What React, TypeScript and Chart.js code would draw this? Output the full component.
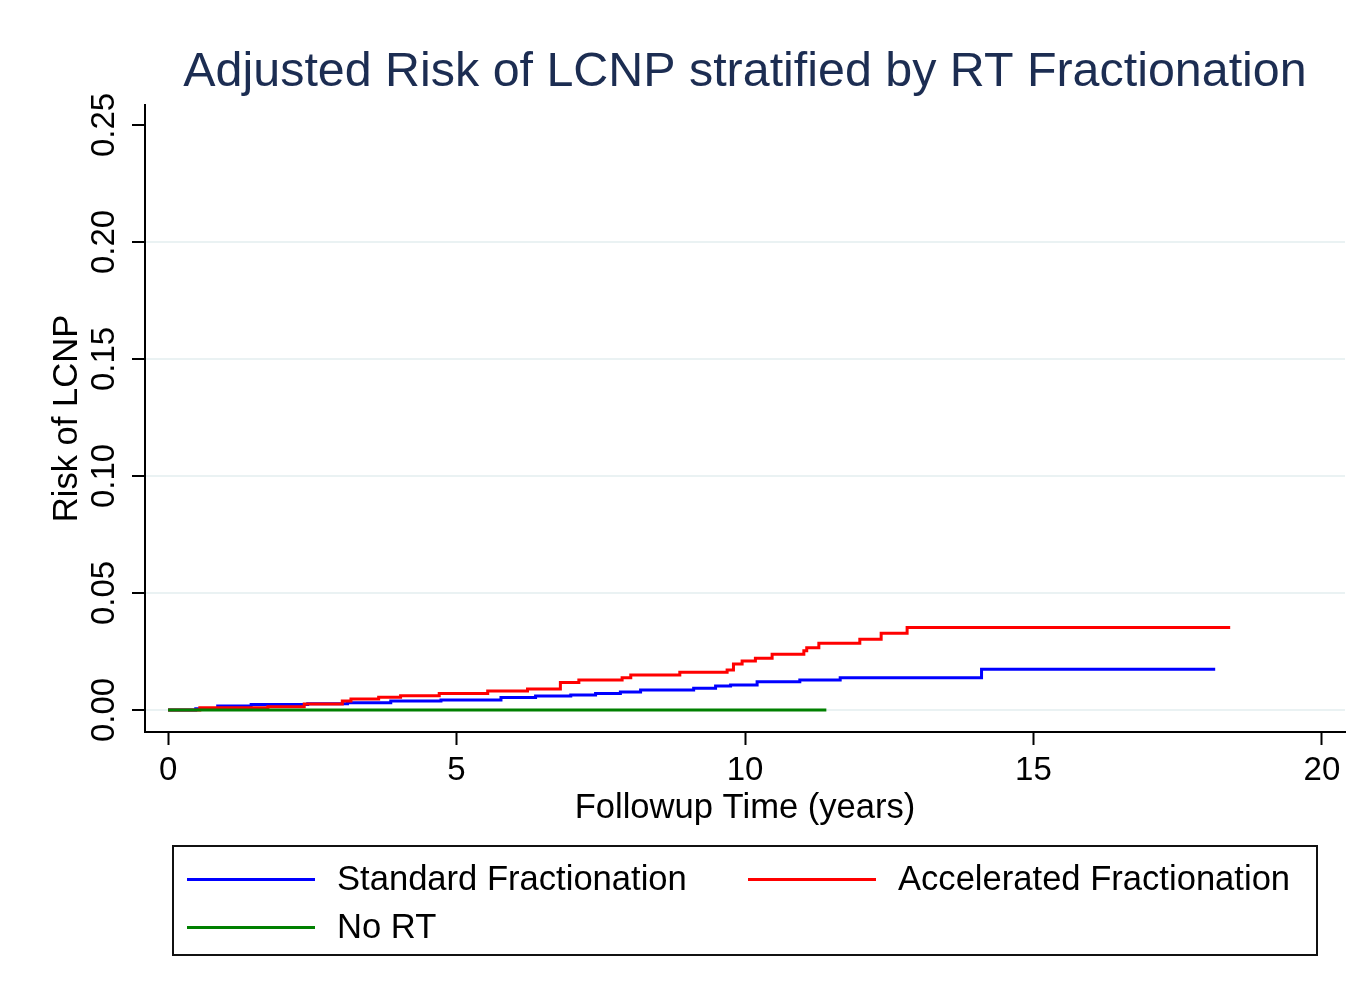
import React, { useEffect, useRef } from "react";
import { Chart, registerables } from "chart.js";

Chart.register(...registerables);

const FONT = '"Liberation Sans", Arial, Helvetica, sans-serif';

const chartTitle = "Adjusted Risk of LCNP stratified by RT Fractionation";
const xAxisTitle = "Followup Time (years)";
const yAxisTitle = "Risk of LCNP";

const xTickValues = [0, 5, 10, 15, 20];
const yTickValues = [0, 0.05, 0.1, 0.15, 0.2, 0.25];
const yTickLabels = ["0.00", "0.05", "0.10", "0.15", "0.20", "0.25"];

const seriesNames = ["Standard Fractionation", "Accelerated Fractionation", "No RT"];
const seriesColors = ["#0000ff", "#ff0000", "#008000"];

const standardTimes = [0, 0.48, 0.86, 1.44, 2.42, 3.11, 3.86, 4.73, 5.77, 6.37, 6.98, 7.41, 7.84, 8.19, 9.11, 9.49, 9.75, 10.21, 10.95, 11.65, 14.1, 18.15];
const standardRisk = [0, 0.0005, 0.0017, 0.0024, 0.0027, 0.0031, 0.0038, 0.0043, 0.0053, 0.006, 0.0064, 0.0071, 0.0077, 0.0085, 0.0093, 0.0103, 0.0107, 0.0121, 0.0128, 0.0138, 0.0174, 0.0174];

const acceleratedTimes = [0, 0.55, 1.73, 2.36, 3.02, 3.17, 3.65, 4.03, 4.7, 5.54, 6.23, 6.8, 7.12, 7.87, 8.02, 8.87, 9.69, 9.8, 9.95, 10.18, 10.47, 11.02, 11.07, 11.28, 11.99, 12.36, 12.81, 18.41];
const acceleratedRisk = [0, 0.001, 0.0014, 0.0026, 0.0038, 0.0047, 0.0054, 0.0061, 0.0071, 0.0081, 0.009, 0.0117, 0.0128, 0.0138, 0.015, 0.0161, 0.0171, 0.0197, 0.0209, 0.0221, 0.0238, 0.0253, 0.0266, 0.0285, 0.0302, 0.0328, 0.0352, 0.0352];

const noRtTimes = [0, 11.41];
const noRtRisk = [0, 0];

const toPoints = (xs: number[], ys: number[]) => xs.map((x, i) => ({ x, y: ys[i] }));

const yLabelPlugin = {
  id: "yLabels",
  afterDraw(chart: any) {
    const ys = chart.scales.y;
    const ctx = chart.ctx;
    ctx.save();
    ctx.font = `33px ${FONT}`;
    ctx.fillStyle = "#000";
    ctx.textAlign = "center";
    ctx.textBaseline = "middle";
    yTickValues.forEach((v, i) => {
      const py = ys.getPixelForValue(v);
      ctx.save();
      ctx.translate(105, py);
      ctx.rotate(-Math.PI / 2);
      ctx.fillText(yTickLabels[i], 0, 0);
      ctx.restore();
    });
    ctx.restore();
  },
};

export default function App() {
  const ref = useRef<HTMLCanvasElement | null>(null);

  useEffect(() => {
    if (!ref.current) return;
    const chart = new Chart(ref.current, {
      type: "line",
      data: {
        datasets: [
          {
            label: seriesNames[0],
            data: toPoints(standardTimes, standardRisk),
            borderColor: seriesColors[0],
            backgroundColor: seriesColors[0],
            borderWidth: 3,
            pointRadius: 0,
            stepped: true,
            order: 2,
          },
          {
            label: seriesNames[1],
            data: toPoints(acceleratedTimes, acceleratedRisk),
            borderColor: seriesColors[1],
            backgroundColor: seriesColors[1],
            borderWidth: 3,
            pointRadius: 0,
            stepped: true,
            order: 1,
          },
          {
            label: seriesNames[2],
            data: toPoints(noRtTimes, noRtRisk),
            borderColor: seriesColors[2],
            backgroundColor: seriesColors[2],
            borderWidth: 3,
            pointRadius: 0,
            stepped: true,
            order: 0,
          },
        ],
      },
      options: {
        animation: false,
        responsive: false,
        devicePixelRatio: 1,
        layout: { padding: { left: 0, right: 26, top: 0, bottom: 169.24 } },
        plugins: {
          legend: { display: false },
          tooltip: { enabled: false },
          title: {
            display: true,
            text: chartTitle,
            fullSize: false,
            color: "#1c2d52",
            font: { family: FONT, size: 48.4, weight: "normal", lineHeight: 1.2 },
            padding: { top: 43.5, bottom: 3.42 },
          },
        },
        scales: {
          x: {
            type: "linear",
            min: -0.4,
            max: 20.4,
            afterBuildTicks: (s: any) => {
              s.ticks = xTickValues.map((v) => ({ value: v }));
            },
            afterFit: (s: any) => {
              s.height = 96.76;
            },
            ticks: {
              color: "#000",
              font: { family: FONT, size: 33, lineHeight: 1.2 },
              padding: 6,
              maxRotation: 0,
              minRotation: 0,
              callback: (v: any) => String(v),
            },
            grid: {
              drawOnChartArea: false,
              drawTicks: true,
              tickLength: 13,
              tickColor: "#000",
              tickWidth: 2,
            },
            border: { display: true, color: "#000", width: 2 },
            title: {
              display: true,
              text: xAxisTitle,
              color: "#000",
              font: { family: FONT, size: 34.6, lineHeight: 1.2 },
              padding: { top: 0, bottom: 0 },
            },
          },
          y: {
            type: "linear",
            min: -0.0094,
            max: 0.2585,
            afterBuildTicks: (s: any) => {
              s.ticks = yTickValues.map((v) => ({ value: v }));
            },
            afterFit: (s: any) => {
              s.width = 145;
            },
            ticks: { display: false },
            grid: {
              drawOnChartArea: true,
              drawTicks: true,
              tickLength: 13,
              tickColor: "#000",
              tickWidth: 2,
              lineWidth: 2,
              color: (c: any) => (c.tick && Math.abs(c.tick.value - 0.25) < 1e-9 ? "rgba(0,0,0,0)" : "#eaf2f3"),
            },
            border: { display: true, color: "#000", width: 2 },
            title: {
              display: true,
              text: yAxisTitle,
              color: "#000",
              font: { family: FONT, size: 34.6, lineHeight: 1.2 },
              padding: { top: 46.24, bottom: 0 },
            },
          },
        },
      },
      plugins: [yLabelPlugin],
    } as any);
    return () => chart.destroy();
  }, []);

  const legendText: React.CSSProperties = {
    position: "absolute",
    fontFamily: FONT,
    fontSize: 34.6,
    lineHeight: "40px",
    height: 40,
    color: "#000",
    whiteSpace: "nowrap",
  };
  const lineStyle = (color: string): React.CSSProperties => ({
    position: "absolute",
    width: 128,
    height: 3,
    background: color,
  });

  return (
    <div style={{ position: "absolute", left: 0, top: 0, width: 1371, height: 998, background: "#fff" }}>
      <canvas ref={ref} width={1371} height={998} style={{ position: "absolute", left: 0, top: 0 }} />
      <div
        style={{
          position: "absolute",
          left: 172,
          top: 845,
          width: 1146,
          height: 111,
          boxSizing: "border-box",
          border: "2px solid #111",
        }}
      >
        <div style={{ ...lineStyle(seriesColors[0]), left: 13, top: 30.5 }} />
        <div style={{ ...legendText, left: 163, top: 11.2 }}>{seriesNames[0]}</div>
        <div style={{ ...lineStyle(seriesColors[1]), left: 574, top: 30.5 }} />
        <div style={{ ...legendText, left: 724, top: 11.2 }}>{seriesNames[1]}</div>
        <div style={{ ...lineStyle(seriesColors[2]), left: 13, top: 78.5 }} />
        <div style={{ ...legendText, left: 163, top: 59.2 }}>{seriesNames[2]}</div>
      </div>
    </div>
  );
}
